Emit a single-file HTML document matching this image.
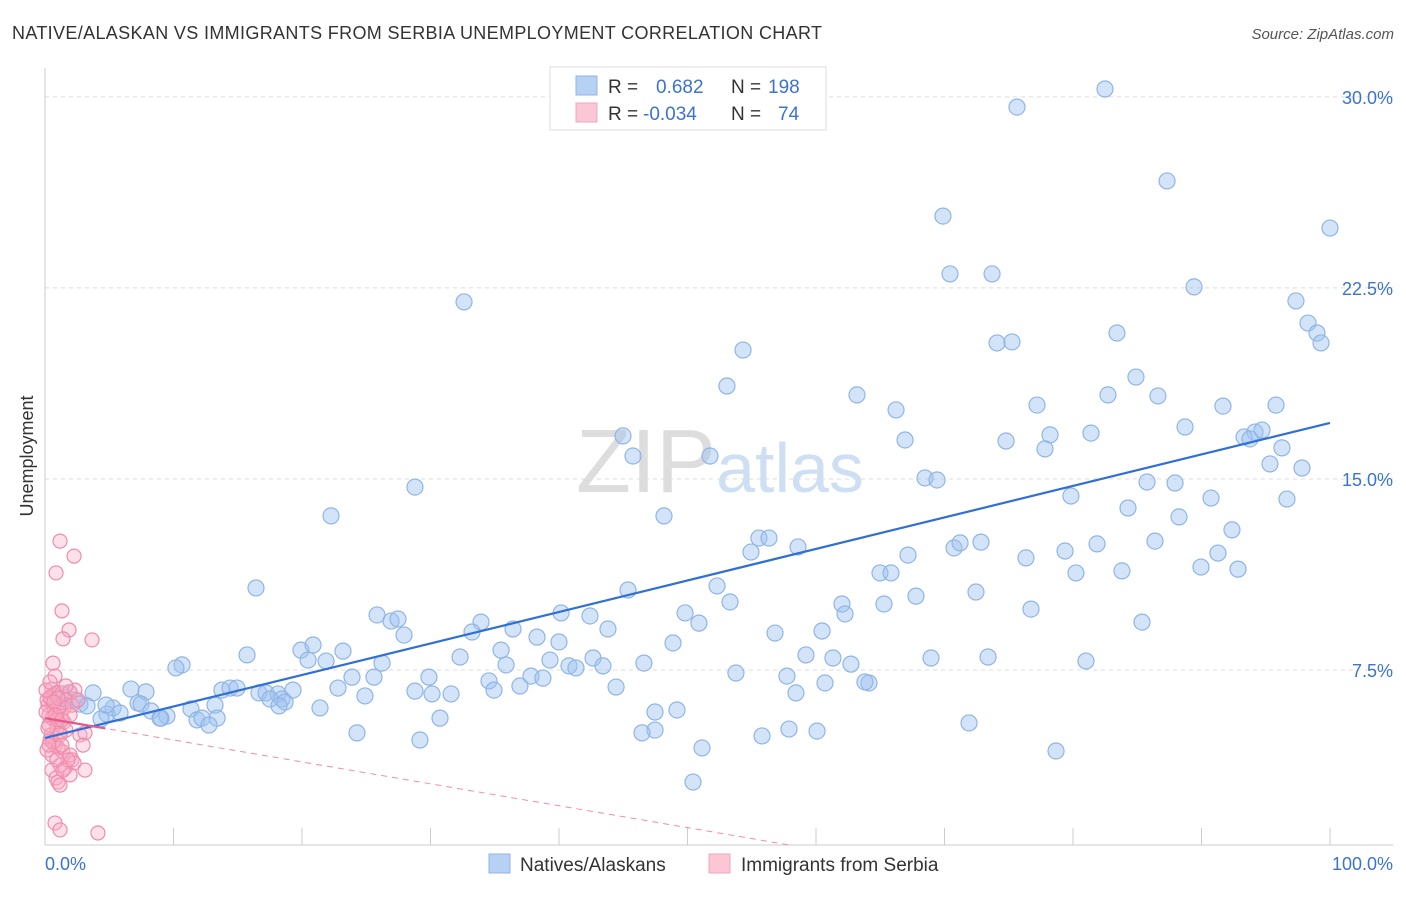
<!DOCTYPE html>
<html><head><meta charset="utf-8"><style>
body{margin:0;background:#fff;font-family:"Liberation Sans",sans-serif;}
svg text{font-family:"Liberation Sans",sans-serif;}
</style></head><body>
<svg id="chart" width="1406" height="892">
<text x="12" y="39" font-size="18" fill="#333" textLength="810">NATIVE/ALASKAN VS IMMIGRANTS FROM SERBIA UNEMPLOYMENT CORRELATION CHART</text>
<text x="1394" y="39" font-size="15" fill="#555" text-anchor="end" font-style="italic">Source: ZipAtlas.com</text>
<text transform="translate(33,456) rotate(-90)" font-size="18" fill="#333" text-anchor="middle">Unemployment</text>
<text x="720" y="492" font-size="90" fill="#ddd" text-anchor="middle" font-family="Liberation Serif">ZIP<tspan fill="#cfdff3" font-family="Liberation Sans" font-size="70">atlas</tspan></text>
<g id="grid"></g><g id="pts"></g><g id="lines"></g>
<g>
<rect x="550" y="67" width="276" height="63" fill="#fff" stroke="#ddd"/>
<rect x="576" y="76" width="21" height="19" fill="#b7d1f4" stroke="#8fb5e6"/>
<rect x="576" y="103" width="21" height="19" fill="#fbc6d6" stroke="#f2a5be"/>
<text x="608" y="93" font-size="19" fill="#333">R = <tspan x="656" fill="#3b73d1">0.682</tspan><tspan x="731" fill="#333">N =</tspan><tspan x="768" fill="#3b73d1">198</tspan></text>
<text x="608" y="120" font-size="19" fill="#333">R = <tspan x="643" fill="#3b73d1">-0.034</tspan><tspan x="731" fill="#333">N =</tspan><tspan x="778" fill="#3b73d1">74</tspan></text>
</g>
<g>
<rect x="489" y="854" width="21" height="19" fill="#b7d1f4" stroke="#8fb5e6"/>
<text x="520" y="871" font-size="19" fill="#333">Natives/Alaskans</text>
<rect x="709" y="854" width="21" height="19" fill="#fbc6d6" stroke="#f2a5be"/>
<text x="741" y="871" font-size="19" fill="#333">Immigrants from Serbia</text>
</g>
<text x="45" y="870" font-size="18" fill="#3b73d1">0.0%</text>
<text x="1393" y="870" font-size="18" fill="#3b73d1" text-anchor="end">100.0%</text>
</svg>
<script>
const yTicks=[7.5,15,22.5,30];
const yTickLabels=["7.5%","15.0%","22.5%","30.0%"];
const blueTrend=[4.83,17.2];
const pinkTrend=[5.61,-0.086];
const bluePx=[[1017,107],[1105,89],[1167,181],[943,216],[1330,228],[950,274],[992,274],[1194,287],[1296,301],[1308,323],[1317,333],[1321,343],[464,302],[743,350],[997,343],[1012,342],[1117,333],[727,386],[1136,377],[857,395],[1108,395],[1158,396],[896,410],[1037,405],[1223,406],[1276,405],[623,436],[905,440],[1006,441],[1050,435],[1091,433],[1185,427],[1255,432],[1262,430],[1244,437],[1250,439],[1282,448],[1045,449],[633,456],[710,456],[1270,464],[925,478],[937,480],[1302,468],[1147,482],[1175,483],[1071,496],[415,487],[1211,498],[1287,499],[331,516],[664,516],[1128,508],[1179,517],[1232,530],[759,538],[769,538],[751,552],[798,547],[954,548],[960,543],[981,542],[1097,544],[1155,541],[1065,551],[908,555],[1026,558],[1218,553],[880,573],[891,573],[1076,573],[1122,571],[1201,567],[1238,569],[256,588],[628,590],[717,586],[976,592],[916,596],[730,602],[842,604],[884,604],[377,615],[561,613],[590,616],[685,613],[845,614],[1031,609],[391,621],[398,619],[481,622],[699,623],[1142,622],[404,635],[472,632],[513,629],[608,629],[775,633],[822,631],[673,643],[301,650],[313,645],[537,637],[559,642],[247,655],[343,651],[308,660],[326,661],[460,657],[501,650],[550,660],[593,658],[644,663],[806,655],[833,658],[931,658],[988,657],[1086,661],[182,665],[176,668],[382,663],[506,665],[569,666],[576,668],[603,666],[851,664],[374,677],[429,677],[352,677],[736,673],[787,676],[489,681],[531,676],[543,678],[616,687],[825,683],[869,683],[865,682],[131,689],[146,692],[222,690],[230,688],[237,688],[293,690],[338,688],[451,694],[93,693],[259,693],[266,693],[278,694],[282,699],[432,694],[520,686],[494,690],[796,693],[64,698],[113,708],[138,703],[141,704],[215,705],[270,699],[285,702],[365,696],[415,691],[191,709],[217,718],[279,706],[320,708],[440,718],[655,712],[677,710],[107,714],[120,713],[151,711],[161,718],[167,716],[197,720],[202,718],[209,725],[101,719],[655,730],[642,733],[357,733],[789,729],[762,736],[817,731],[969,723],[420,740],[702,748],[1056,751],[693,782],[75,700],[80,704],[69,693],[54,696],[59,705],[87,706],[106,705],[160,718]];
const pinkPx=[[60,541],[74,556],[56,573],[62,611],[69,630],[63,639],[92,640],[53,663],[55,676],[50,697],[52,689],[56,693],[62,693],[70,692],[48,705],[54,708],[58,712],[61,716],[64,722],[49,725],[52,718],[57,728],[60,733],[66,730],[80,735],[85,733],[50,740],[55,745],[58,748],[83,745],[63,752],[70,755],[72,760],[60,765],[65,768],[74,763],[52,770],[85,770],[56,778],[58,782],[70,775],[60,785],[55,823],[60,830],[98,833],[47,700],[49,715],[51,735],[53,742],[47,750],[46,712],[50,698],[66,700],[64,708],[72,705],[56,720],[60,735],[68,760],[48,728],[52,755],[62,745],[75,690],[78,700],[58,698],[54,702],[46,690],[50,682],[66,686],[55,715],[62,720],[70,715],[57,760],[63,770],[49,745]];
const blueX=bluePx.map(p=>+((p[0]-45)/12.85).toFixed(2));
const blueY=bluePx.map(p=>+((861-p[1])/25.47).toFixed(2));
const pinkX=pinkPx.map(p=>+((p[0]-45)/12.85).toFixed(2));
const pinkY=pinkPx.map(p=>+((861-p[1])/25.47).toFixed(2));
const NS="http://www.w3.org/2000/svg";
const sx=v=>45+v*12.85, sy=v=>861-v*25.47;
function mk(tag,attrs,parent){const e=document.createElementNS(NS,tag);for(const k in attrs)e.setAttribute(k,attrs[k]);parent.appendChild(e);return e;}
const grid=document.getElementById('grid');
yTicks.forEach((t,i)=>{
 const l=mk('line',{x1:45,x2:1393,y1:sy(t),y2:sy(t),stroke:'#ddd','stroke-dasharray':'4,4'},grid);
 
 
 const tx=mk('text',{x:1393,y:sy(t)+7,'font-size':18,fill:'#3b73d1','text-anchor':'end'},grid);
 tx.textContent=yTickLabels[i];
 
 
});
mk('line',{x1:45,x2:45,y1:68,y2:845,stroke:'#ccc'},grid);
mk('line',{x1:45,x2:1393,y1:845,y2:845,stroke:'#ccc'},grid);
for(let i=0;i<=10;i++){const t=mk('line',{x1:sx(i*10),x2:sx(i*10),y1:828,y2:845,stroke:'#ccc'},grid);
 
 }
const pts=document.getElementById('pts');
blueX.forEach((x,i)=>{const c=mk('circle',{cx:sx(x),cy:sy(blueY[i]),r:8,fill:'rgba(160,196,240,0.45)',stroke:'#8fb5e6','stroke-width':1.2},pts);
 
 });
pinkX.forEach((x,i)=>{const c=mk('circle',{cx:sx(x),cy:sy(pinkY[i]),r:7,fill:'rgba(248,170,195,0.35)',stroke:'#f08cab','stroke-width':1.2},pts);
 
 });
const lines=document.getElementById('lines');
const bl=mk('line',{x1:sx(0),y1:sy(blueTrend[0]),x2:sx(100),y2:sy(blueTrend[1]),stroke:'#2f6fd6','stroke-width':2.2},lines);


const pe=58;
const pd=mk('line',{x1:sx(0),y1:sy(pinkTrend[0]),x2:sx(pe),y2:sy(pinkTrend[0]+pinkTrend[1]*pe),stroke:'#f08cab','stroke-width':1,'stroke-dasharray':'6,5'},lines);


const ps=mk('line',{x1:sx(0),y1:sy(pinkTrend[0]),x2:sx(4.7),y2:sy(pinkTrend[0]+pinkTrend[1]*4.7),stroke:'#e8578a','stroke-width':2.2},lines);


</script>
</body></html>
